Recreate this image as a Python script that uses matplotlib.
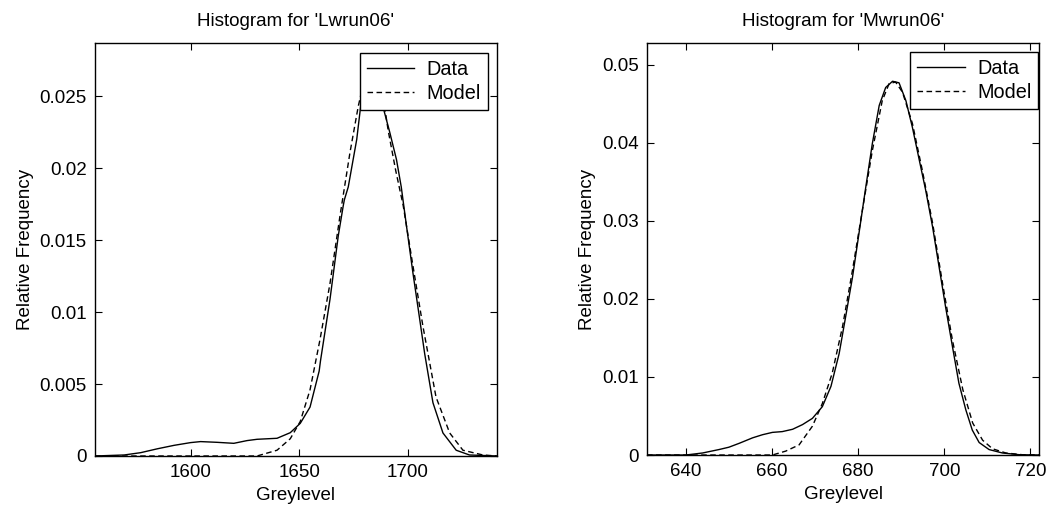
import numpy as np
import matplotlib
matplotlib.use("Agg")
import matplotlib.pyplot as plt
from matplotlib.ticker import FuncFormatter

# Lwrun06 histogram (left panel)
lw_data_x = [1556, 1569.4, 1577, 1584.7, 1592.4, 1600, 1604.6, 1612.2, 1619.9, 1626,
             1630.6, 1639.8, 1645.9, 1650.5, 1655, 1659.2, 1659.8, 1664.2, 1668, 1670.3,
             1670.8, 1672.6, 1676.5, 1678.7, 1681, 1684, 1686.5, 1688.7, 1691.7, 1694.8,
             1697, 1699.4, 1702.4, 1705.5, 1707.8, 1711.6, 1716.2, 1722.3, 1728.4, 1741]
lw_data_y = [0, 0.00007, 0.00023, 0.0005, 0.00074, 0.00093, 0.001, 0.00095, 0.00088, 0.00107,
             0.00116, 0.00123, 0.00162, 0.00227, 0.0034, 0.0059, 0.0066, 0.0109, 0.0153, 0.0174,
             0.0178, 0.0187, 0.022, 0.0248, 0.0268, 0.0278, 0.0266, 0.0242, 0.0225, 0.0206,
             0.0187, 0.016, 0.0127, 0.0095, 0.0071, 0.0037, 0.0016, 0.0004, 0.00007, 0]
lw_model_x = [1556, 1630.6, 1639.8, 1645.9, 1650.5, 1655, 1659.6, 1664.2, 1668.8, 1673.4,
              1677.2, 1680.5, 1683.5, 1686.5, 1689, 1691, 1694.5, 1697.9, 1702.4, 1707,
              1713, 1719.3, 1725.4, 1734.6, 1741]
lw_model_y = [0, 0, 0.0004, 0.0012, 0.0024, 0.0046, 0.0081, 0.012, 0.0167, 0.0211,
              0.0243, 0.0265, 0.0273, 0.0265, 0.0246, 0.0226, 0.0198, 0.0174, 0.0132, 0.009,
              0.0041, 0.0016, 0.0004, 0.00007, 0]

# Mwrun06 histogram (right panel)
mw_data_x = [631, 640, 643.9, 647.7, 650, 652.4, 655.5, 657.8, 660.1, 662.4,
             664.8, 667.1, 669.4, 671.7, 673.7, 675.6, 677.1, 678.7, 680.2, 681.8,
             683.3, 684.9, 686.4, 688, 689.5, 691.1, 692.6, 694.2, 695.7, 697.3,
             698.8, 700.3, 701.9, 703.4, 705, 706.5, 708.1, 710.4, 713.5, 717.4, 722]
mw_data_y = [0, 0, 0.00026, 0.0007, 0.001, 0.0015, 0.0022, 0.0026, 0.0029, 0.003,
             0.0033, 0.0039, 0.0047, 0.0062, 0.0088, 0.013, 0.0177, 0.0228, 0.0284, 0.0344,
             0.0399, 0.0448, 0.0471, 0.0479, 0.0477, 0.0454, 0.042, 0.0378, 0.0339, 0.0292,
             0.0241, 0.019, 0.0139, 0.0092, 0.0058, 0.0032, 0.0016, 0.0007, 0.00026, 0.00004, 0]
mw_model_x = [631, 660.1, 663.2, 666.3, 669.4, 671.7, 674, 676.4, 678.7, 681,
              683.3, 685.6, 687.2, 688.7, 690.3, 692.6, 694.9, 697.3, 699.6, 701.9,
              704.3, 706.6, 708.9, 711.2, 714.3, 718.1, 722]
mw_model_y = [0, 0, 0.0005, 0.0013, 0.0037, 0.0066, 0.0105, 0.0165, 0.0237, 0.0314,
              0.039, 0.0454, 0.0476, 0.0478, 0.0465, 0.0425, 0.0365, 0.0297, 0.022, 0.0147,
              0.0084, 0.0041, 0.0019, 0.0008, 0.00026, 0.00004, 0]

plt.rcParams["font.family"] = ["Liberation Sans", "DejaVu Sans"]
plt.rcParams["font.size"] = 13

fig = plt.figure(figsize=(10.49, 5.12), dpi=100)
ax1 = fig.add_axes([0.0906, 0.1094, 0.383, 0.8066])
ax2 = fig.add_axes([0.6168, 0.1113, 0.3737, 0.8047])

gfmt = FuncFormatter(lambda v, p: "%g" % round(v, 6))


def panel(ax, dx, dy, mx, my, title, xlim, ylim, xticks, yticks, legend_anchor):
    ax.plot(dx, dy, "k-", lw=1.0, label="Data")
    ax.plot(mx, my, "k--", lw=1.0, dashes=(4, 2.5), label="Model")
    ax.set_xlim(*xlim)
    ax.set_ylim(*ylim)
    ax.set_xticks(xticks)
    ax.set_yticks(yticks)
    ax.yaxis.set_major_formatter(gfmt)
    ax.tick_params(direction="in", top=True, right=True, length=5, width=0.8,
                   labelsize=13.5, pad=6)
    for s in ax.spines.values():
        s.set_linewidth(1.0)
    ax.set_title(title, fontsize=13.6, pad=12)
    ax.set_xlabel("Greylevel", fontsize=13.5, labelpad=4)
    ax.set_ylabel("Relative Frequency", fontsize=13.5)
    leg = ax.legend(loc="upper right", bbox_to_anchor=legend_anchor, fontsize=14.3,
                    fancybox=False, framealpha=1, edgecolor="black",
                    handlelength=2.4, borderpad=0.35, labelspacing=0.25,
                    handletextpad=0.6, borderaxespad=0)
    leg.get_frame().set_linewidth(1.0)


panel(ax1, lw_data_x, lw_data_y, lw_model_x, lw_model_y, "Histogram for 'Lwrun06'",
      (1556, 1741), (0, 0.0287), [1600, 1650, 1700],
      [0, 0.005, 0.01, 0.015, 0.02, 0.025], (0.977, 0.976))
panel(ax2, mw_data_x, mw_data_y, mw_model_x, mw_model_y, "Histogram for 'Mwrun06'",
      (631, 722), (0, 0.0528), [640, 660, 680, 700, 720],
      [0, 0.01, 0.02, 0.03, 0.04, 0.05], (0.998, 0.978))

fig.savefig("out.png", dpi=100)
